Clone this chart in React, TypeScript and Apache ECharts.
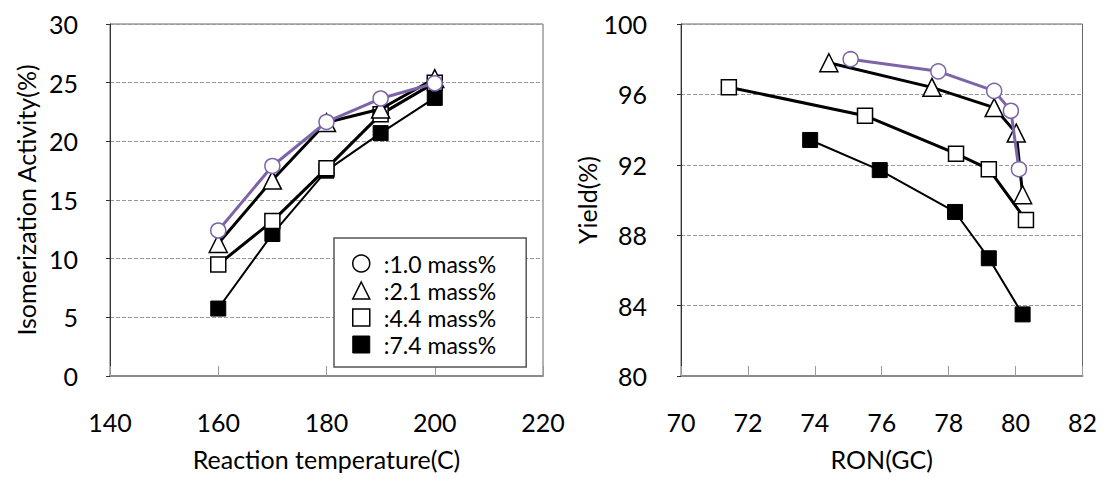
import React, { useEffect, useRef } from "react";
import * as echarts from "echarts";

const tempX = [160, 170, 180, 190, 200];
const act10 = [12.4, 17.9, 21.65, 23.65, 24.95];
const act21 = [11.3, 16.7, 21.6, 22.75, 25.35];
const act44 = [9.5, 13.2, 17.7, 22.3, 25.0];
const act74 = [5.75, 12.1, 17.5, 20.7, 23.7];

const ron10 = [75.07, 77.69, 79.36, 79.86, 80.1];
const yld10 = [98.0, 97.31, 96.2, 95.07, 91.75];
const ron21 = [74.42, 77.5, 79.36, 80.02, 80.21];
const yld21 = [97.8, 96.4, 95.25, 93.8, 90.3];
const ron44 = [71.43, 75.5, 78.22, 79.2, 80.31];
const yld44 = [96.41, 94.79, 92.63, 91.75, 88.86];
const ron74 = [73.86, 75.94, 78.19, 79.2, 80.21];
const yld74 = [93.41, 91.7, 89.32, 86.69, 83.5];

const seriesNames = ["1.0 mass%", "2.1 mass%", "4.4 mass%", "7.4 mass%"];

const FONT = "Lato";
const PURPLE = "#7d64a8";

const zip = (a: number[], b: number[]) => a.map((v, i) => [v, b[i]]);

export default function App() {
  const ref = useRef<HTMLDivElement>(null);
  useEffect(() => {
    if (!ref.current) return;
    const chart = echarts.init(ref.current, undefined, { renderer: "svg" });

    const styles = [
      { symbol: "circle", symbolSize: 15, item: { color: "#fff", borderColor: PURPLE, borderWidth: 1.5 }, line: { color: PURPLE, width: 3 } },
      { symbol: "triangle", symbolSize: 18, item: { color: "#fff", borderColor: "#000", borderWidth: 1.5 }, line: { color: "#000", width: 3 } },
      { symbol: "rect", symbolSize: 15, item: { color: "#fff", borderColor: "#000", borderWidth: 1.5 }, line: { color: "#000", width: 3 } },
      { symbol: "rect", symbolSize: 15, item: { color: "#000", borderColor: "#000", borderWidth: 1 }, line: { color: "#000", width: 2 } },
    ];

    const leftData = [zip(tempX, act10), zip(tempX, act21), zip(tempX, act44), zip(tempX, act74)];
    const rightData = [zip(ron10, yld10), zip(ron21, yld21), zip(ron44, yld44), zip(ron74, yld74)];

    const order = [3, 2, 1, 0];
    const series: any[] = [];
    for (const gi of [0, 1]) {
      for (const i of order) {
        const s = styles[i];
        series.push({
          type: "line",
          name: seriesNames[i],
          xAxisIndex: gi,
          yAxisIndex: gi,
          data: gi === 0 ? leftData[i] : rightData[i],
          symbol: s.symbol,
          symbolSize: s.symbolSize,
          showAllSymbol: true,
          itemStyle: s.item,
          lineStyle: s.line,
          z: 2 + (3 - i),
        });
      }
    }

    const tickLabel = { fontFamily: FONT, fontSize: 25, color: "#000" };
    const nameText = { fontFamily: FONT, fontSize: 25, color: "#000" };

    const xAxisCommon = (min: number, max: number, interval: number, name: string, gi: number) => ({
      type: "value",
      gridIndex: gi,
      min,
      max,
      interval,
      name,
      nameLocation: "middle",
      nameGap: 70,
      nameTextStyle: nameText,
      axisLine: { show: true, lineStyle: { color: "#8a8a8a", width: 2 } },
      axisTick: { show: true, inside: true, length: 10, lineStyle: { color: "#999", width: 1 } },
      axisLabel: { ...tickLabel, margin: 33 },
      splitLine: { show: false },
    });

    const yAxisCommon = (min: number, max: number, interval: number, name: string, gi: number, gap: number, margin: number) => ({
      type: "value",
      gridIndex: gi,
      min,
      max,
      interval,
      name,
      nameLocation: "middle",
      nameGap: gap,
      nameTextStyle: nameText,
      axisLine: { show: true, lineStyle: { color: "#333", width: 1 } },
      axisTick: { show: true, inside: false, length: 4, lineStyle: { color: "#333" } },
      axisLabel: { ...tickLabel, margin },
      splitLine: { show: true, lineStyle: { color: "#999", type: [4, 2], width: 1 } },
    });

    chart.setOption({
      animation: false,
      backgroundColor: "#fff",
      grid: [
        { left: 102, top: 16, width: 433, height: 363, show: true, borderColor: "#666", borderWidth: 1, backgroundColor: "transparent" },
        { left: 673, top: 16, width: 412, height: 363, show: true, borderColor: "#666", borderWidth: 1, backgroundColor: "transparent" },
      ],
      xAxis: [
        xAxisCommon(140, 220, 20, "Reaction temperature(C)", 0),
        xAxisCommon(70, 82, 2, "RON(GC)", 1),
      ],
      yAxis: [
        yAxisCommon(0, 30, 5, "Isomerization Activity(%)", 0, 72, 32),
        yAxisCommon(80, 100, 4, "Yield(%)", 1, 81, 34),
      ],
      legend: {
        show: true,
        orient: "vertical",
        left: 326,
        top: 230,
        padding: [14, 30, 11, 18],
        backgroundColor: "#fff",
        borderColor: "#555",
        borderWidth: 1.5,
        borderRadius: 0,
        itemGap: 4,
        itemWidth: 17,
        itemHeight: 17,
        selectedMode: false,
        textStyle: {
          fontFamily: FONT,
          fontSize: 23,
          lineHeight: 23,
          color: "#000",
          rich: { t: { fontFamily: FONT, fontSize: 23, lineHeight: 23, color: "#000", padding: [0, 0, 0, 9] } },
        },
        formatter: (n: string) => `{t|:${n}}`,
        data: [
          { name: seriesNames[0], icon: "circle", itemStyle: { color: "#fff", borderColor: "#000", borderWidth: 1.5 } },
          { name: seriesNames[1], icon: "triangle", itemStyle: { color: "#fff", borderColor: "#000", borderWidth: 1.5 } },
          { name: seriesNames[2], icon: "rect", itemStyle: { color: "#fff", borderColor: "#000", borderWidth: 1.5 } },
          { name: seriesNames[3], icon: "rect", itemStyle: { color: "#000", borderColor: "#000", borderWidth: 1 } },
        ],
      },
      series,
    });
    return () => chart.dispose();
  }, []);
  return <div ref={ref} style={{ width: 1092, height: 468 }} />;
}
